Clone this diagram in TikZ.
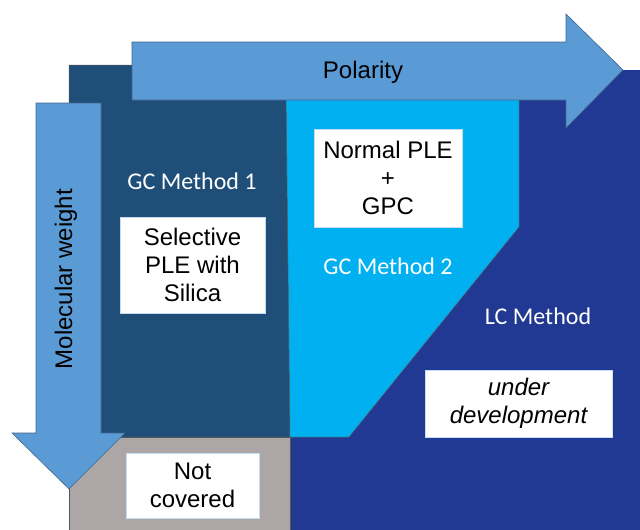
\documentclass[tikz,border=0pt]{standalone}
\usepackage{fontspec}
\setmainfont{Liberation Sans}
\newfontfamily\carlito{Carlito}
\usetikzlibrary{positioning}
\definecolor{gcnavy}{RGB}{31,78,121}
\definecolor{gccyan}{RGB}{0,176,240}
\definecolor{lcblue}{RGB}{33,57,146}
\definecolor{notgray}{RGB}{172,167,166}
\definecolor{axisblue}{RGB}{91,155,213}
\definecolor{axisedge}{RGB}{65,100,140}
\tikzset{
    field/.style={draw=black!65, line width=0.5pt},
    axisarrow/.style={draw=axisedge, fill=axisblue, line width=0.6pt},
    axislabel/.style={font=\fontsize{24}{28}\selectfont, text=black},
    methodlabel/.style={font=\carlito\fontsize{24}{28}\selectfont, text=white},
    samplebox/.style={fill=white, draw=axisblue!35, line width=0.5pt,
        align=center, inner sep=0pt, font=\fontsize{24}{28}\selectfont},
}

\begin{document}
\begin{tikzpicture}[x=1pt, y=-1pt]
            \useasboundingbox (0,0) rectangle (640,530);

            % LC region, lies under the others
            \fill[lcblue] (286,70) rectangle (640,530);

            % not covered region
            \filldraw[field, fill=notgray] (69,437) rectangle (290,530);

            % GC method 1 region
            \filldraw[field, fill=gcnavy] (69,65) -- (286,65) -- (290,437)
            -- (69,437) -- cycle;

            % GC method 2 region
            \filldraw[field, fill=gccyan] (286,90) -- (519,90) -- (519,227)
            -- (349,437) -- (290,437) -- cycle;

            % axis arrows
            \filldraw[axisarrow] (132,42) -- (566,42) -- (566,14) -- (623,70)
            -- (566,128) -- (566,100) -- (132,100) -- cycle;
            \filldraw[axisarrow] (36,103) -- (101,103) -- (101,433) -- (125,433)
            -- (69,489) -- (12,433) -- (36,433) -- cycle;
            \node[axislabel] (polarity) at (363,72) {Polarity};
            \node[axislabel, rotate=90] (molweight) at (66,279) {Molecular weight};

            % method labels
            \node[methodlabel] (gcone) at (192,181) {GC Method 1};
            \node[methodlabel] (gctwo) at (388,266) {GC Method 2};
            \node[methodlabel] (lcmethod) at (538,316) {LC Method};

            % sample preparation boxes
            \node[samplebox, minimum width=145, minimum height=96]
            (selective) at (192.5,265) {Selective\\PLE with\\Silica};
            \node[samplebox, minimum width=148, minimum height=98]
            (normal) at (388,178) {Normal PLE\\+\\GPC};
            \node[samplebox, minimum width=133, minimum height=65]
            (notcovered) at (192.5,485.5) {Not\\covered};
            \node[samplebox, minimum width=187, minimum height=67,
                font=\itshape\fontsize{24}{28}\selectfont]
            (underdev) at (518.5,403.5) {under\\development};
        \end{tikzpicture}
\end{document}
